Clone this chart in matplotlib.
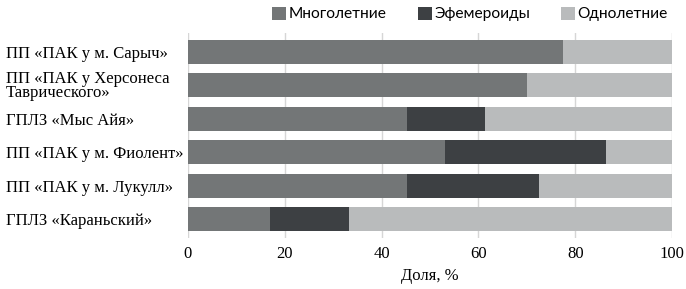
import matplotlib
matplotlib.use("Agg")
import matplotlib.pyplot as plt
import numpy as np

serif = "Liberation Serif"

sites = ["ПП «ПАК у м. Сарыч»", "ПП «ПАК у Херсонеса\nТаврического»", "ГПЛЗ «Мыс Айя»",
		 "ПП «ПАК у м. Фиолент»", "ПП «ПАК у м. Лукулл»", "ГПЛЗ «Караньский»"]
perennial = [77.5, 70.0, 45.2, 53.0, 45.3, 17.0]
ephemeroid = [0.0, 0.0, 16.1, 33.3, 27.3, 16.3]
annual = [22.5, 30.0, 38.7, 13.7, 27.4, 66.7]
series_names = ["Многолетние", "Эфемероиды", "Однолетние"]
colors = ["#737677", "#3d4043", "#b9bbbc"]

fig = plt.figure(figsize=(6.86, 2.89), dpi=100)
ax = fig.add_axes([188/686, 1-238/289, (672-188)/686, (238-33)/289])

y = np.arange(len(sites))
left = np.zeros(len(sites))
handles = []
for vals, name, c in zip([perennial, ephemeroid, annual], series_names, colors):
	b = ax.barh(y, vals, left=left, height=0.72, color=c, label=name, zorder=2)
	handles.append(b)
	left = left + np.array(vals)

ax.set_xlim(0, 100)
ax.set_ylim(len(sites) - 0.5 + 0.07, -0.57)
ax.set_xticks(np.arange(0, 101, 20))
ax.set_yticks(y)
ax.grid(axis="x", color="#d6d6d6", linewidth=1, zorder=0)
for s in ax.spines.values():
	s.set_visible(False)
ax.tick_params(length=0)
ax.tick_params(axis="y", pad=131)
ax.tick_params(axis="x", pad=6)
ax.set_yticklabels(sites)
ax.set_xticklabels([str(v) for v in range(0, 101, 20)])
for lab in ax.get_yticklabels():
	lab.set_horizontalalignment("left")
	lab.set_fontfamily(serif)
	lab.set_fontsize(12)
	lab.set_linespacing(0.82)
for lab in ax.get_xticklabels():
	lab.set_fontfamily(serif)
	lab.set_fontsize(12)
ax.set_xlabel("Доля, %", fontfamily=serif, fontsize=12, labelpad=4)

fig.legend(handles=handles, labels=series_names, loc="center", bbox_to_anchor=(470/686, 1-14/289),
		   ncol=3, frameon=False, prop={"family": "Lato", "size": 11.2},
		   handlelength=0.9, handleheight=0.9, handletextpad=0.15, columnspacing=2.0)

plt.savefig("out.png", dpi=100)
